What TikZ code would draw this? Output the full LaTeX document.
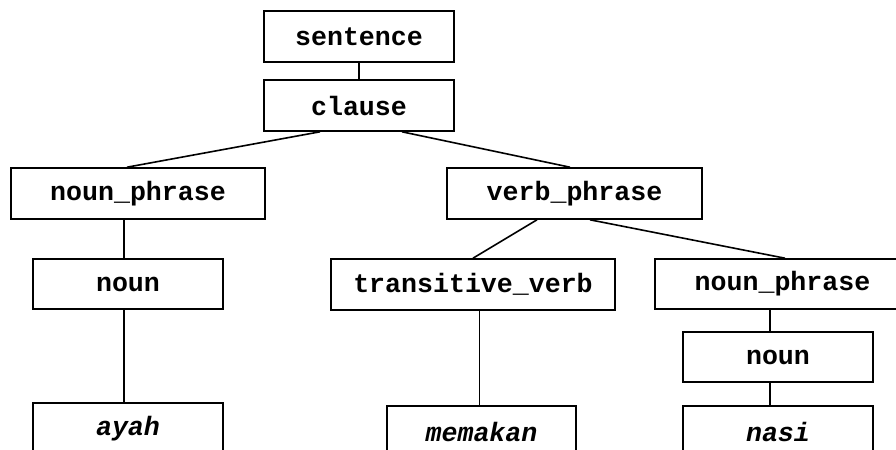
\documentclass[tikz,border=0pt]{standalone}
\usepackage{fontspec}
\setmonofont{Liberation Mono}
\usetikzlibrary{calc}

\tikzset{
  cat/.style={draw, line width=0.8pt, inner sep=0pt, minimum height=25.5pt,
    font=\fontsize{13.3}{16}\selectfont\ttfamily\bfseries},
  word/.style={cat, font=\fontsize{13.3}{16}\selectfont\ttfamily\bfseries\itshape},
  branch/.style={line width=0.8pt}
}

\begin{document}
\begin{tikzpicture}[x=0.5pt, y=-0.5pt]
        \clip (0,0) rectangle (896,450);
        \useasboundingbox (0,0) rectangle (896,450);
        % categories
        \node[cat, minimum width=95pt] (sent) at (359,36.5) {sentence};
        \node[cat, minimum width=95pt] (clause) at (359,105.5) {clause};
        \node[cat, minimum width=127pt] (np1) at (138,193.5) {noun\_phrase};
        \node[cat, minimum width=127.5pt] (vp) at (574.5,193.5) {verb\_phrase};
        \node[cat, minimum width=95pt, minimum height=25pt] (n1) at (128,284) {noun};
        \node[cat, minimum width=142pt] (tv) at (473,284.5) {transitive\_verb};
        \node[cat, minimum width=127.5pt, minimum height=25pt] (np2) at (782.5,284) {noun\_phrase};
        \node[cat, minimum width=95pt, minimum height=25pt] (n2) at (778,357) {noun};
        % words
        \node[word, minimum width=95pt] (ayah) at (128,428.5) {ayah};
        \node[word, minimum width=94.5pt] (memakan) at (481.5,431.5) {memakan};
        \node[word, minimum width=95pt] (nasi) at (778,431.5) {nasi};
        % branches
        \draw[branch] (sent.south) -- (clause.north);
        \draw[branch] ($(clause.south)+(-39,0)$) -- ($(np1.north)+(-11,0)$);
        \draw[branch] ($(clause.south)+(43,0)$) -- ($(vp.north)+(-4.5,0)$);
        \draw[branch] ($(vp.south)+(-37.5,0)$) -- (tv.north);
        \draw[branch] ($(vp.south)+(15.5,0)$) -- ($(np2.north)+(2.5,0)$);
        \draw[branch] ($(np1.south)+(-14,0)$) -- ($(n1.north)+(-4,0)$);
        \draw[branch] ($(n1.south)+(-4,0)$) -- ($(ayah.north)+(-4,0)$);
        \draw[branch] ($(tv.south)+(6.5,0)$) -- ($(memakan.north)+(-2,0)$);
        \draw[branch] ($(np2.south)+(-12.5,0)$) -- ($(n2.north)+(-8,0)$);
        \draw[branch] ($(n2.south)+(-8,0)$) -- ($(nasi.north)+(-8,0)$);
      \end{tikzpicture}
\end{document}
